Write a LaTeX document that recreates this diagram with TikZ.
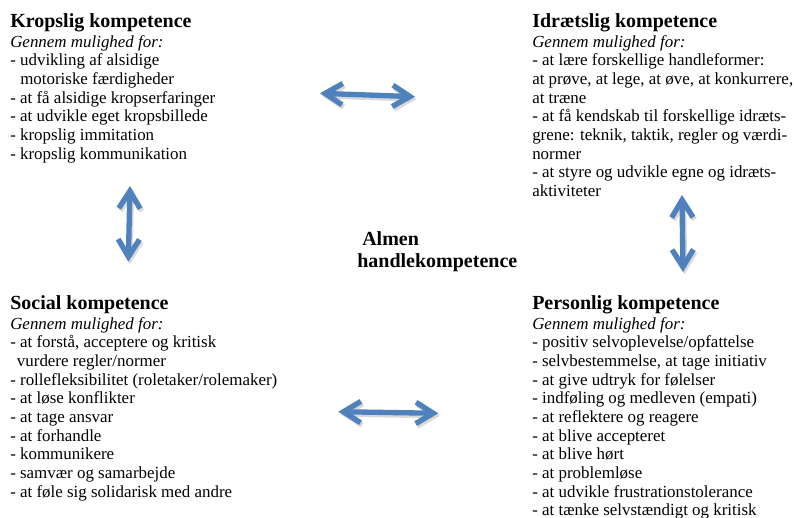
\documentclass[tikz,border=0pt]{standalone}
\usepackage{fontspec}
\setmainfont{Liberation Serif}
\usetikzlibrary{arrows.meta}
\definecolor{arrowblue}{HTML}{4F81BD}
\newcommand{\bodysize}{\fontsize{12.7}{14}\selectfont}
\newcommand{\titlesize}{\fontsize{15}{14}\selectfont\bfseries}
\begin{document}
\begin{tikzpicture}[x=0.75pt,y=-0.75pt,
  block/.style={anchor=base west, inner sep=0pt, font=\bodysize},
  link/.style={line width=4pt, draw=arrowblue, {Straight Barb[length=13pt,width=16pt]}-{Straight Barb[length=13pt,width=16pt]}},
  linkshadow/.style={link, draw=black, opacity=0.15, transform canvas={shift={(1.2pt,-1.8pt)}}}]
\useasboundingbox (0,0) rectangle (794,518);

\node[block] (krop) at (10,27) {\begin{tabular}[t]{@{}l@{}}
{\titlesize Kropslig kompetence}\\[1pt]
\textit{Gennem mulighed for:}\\
- udvikling af alsidige\\
\hspace*{7.5pt}motoriske færdigheder\\
- at få alsidige kropserfaringer\\
- at udvikle eget kropsbillede\\
- kropslig immitation\\
- kropslig kommunikation
\end{tabular}};

\node[block] (idraet) at (532,27) {\begin{tabular}[t]{@{}l@{}}
{\titlesize Idrætslig kompetence}\\[1pt]
\textit{Gennem mulighed for:}\\
- at lære forskellige handleformer:\\
at prøve, at lege, at øve, at konkurrere,\\
at træne\\
- at få kendskab til forskellige idræts-\\
grene: teknik, taktik, regler og værdi-\\
normer\\
- at styre og udvikle egne og idræts-\\
aktiviteter
\end{tabular}};

\node[block] (social) at (10,309) {\begin{tabular}[t]{@{}l@{}}
{\titlesize Social kompetence}\\[1pt]
\textit{Gennem mulighed for:}\\
- at forstå, acceptere og kritisk\\
\hspace*{5pt}vurdere regler/normer\\
- rollefleksibilitet (roletaker/rolemaker)\\
- at løse konflikter\\
- at tage ansvar\\
- at forhandle\\
- kommunikere\\
- samvær og samarbejde\\
- at føle sig solidarisk med andre
\end{tabular}};

\node[block] (person) at (532,309) {\begin{tabular}[t]{@{}l@{}}
{\titlesize Personlig kompetence}\\[1pt]
\textit{Gennem mulighed for:}\\
- positiv selvoplevelse/opfattelse\\
- selvbestemmelse, at tage initiativ\\
- at give udtryk for følelser\\
- indføling og medleven (empati)\\
- at reflektere og reagere\\
- at blive accepteret\\
- at blive hørt\\
- at problemløse\\
- at udvikle frustrationstolerance\\
- at tænke selvstændigt og kritisk
\end{tabular}};

\node[block, font=\titlesize] (almen) at (357,245) {\begin{tabular}[t]{@{}l@{}}
\hspace*{3.75pt}Almen\\[2.5pt]
handlekompetence
\end{tabular}};

\coordinate (tl) at (320,93.3);
\coordinate (tr) at (415,96.7);
\coordinate (lt) at (130,186);
\coordinate (lb) at (128.3,261.7);
\coordinate (rt) at (682,195);
\coordinate (rb) at (683,272);
\coordinate (bl) at (338.3,411.7);
\coordinate (br) at (438.3,413.3);

\draw[linkshadow] (tl) -- (tr);
\draw[linkshadow] (lt) -- (lb);
\draw[linkshadow] (rt) -- (rb);
\draw[linkshadow] (bl) -- (br);
\draw[link] (tl) -- (tr);
\draw[link] (lt) -- (lb);
\draw[link] (rt) -- (rb);
\draw[link] (bl) -- (br);
\end{tikzpicture}
\end{document}
